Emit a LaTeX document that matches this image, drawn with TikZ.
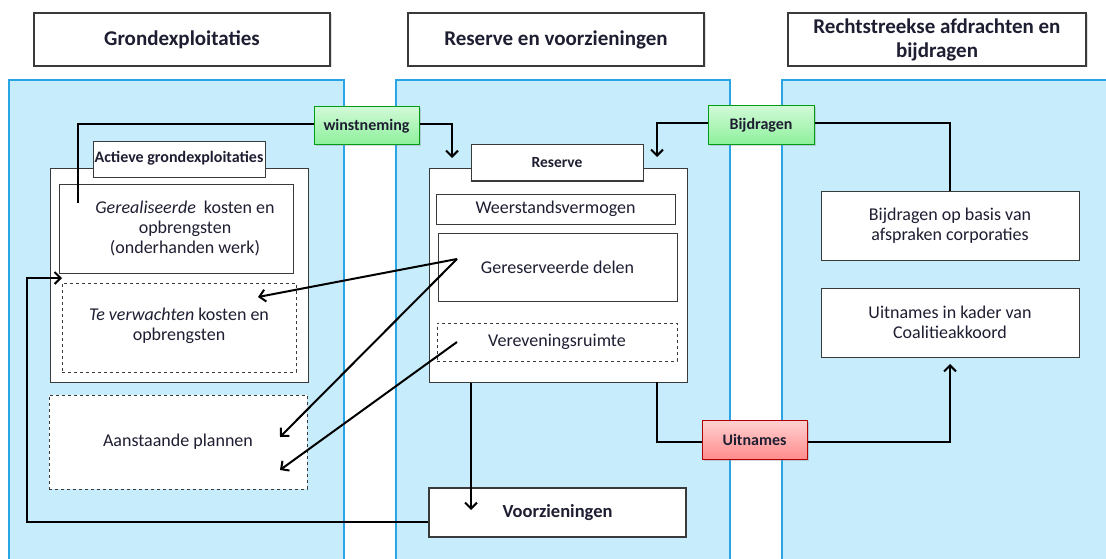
\documentclass[tikz,border=0pt]{standalone}
\usepackage{fontspec}
\setmainfont{Carlito}
\usetikzlibrary{calc,arrows.meta,shadows}

\definecolor{panelfill}{HTML}{C7ECFC}
\definecolor{paneldraw}{HTML}{2AA5E4}
\definecolor{boxdraw}{HTML}{3A3A3A}
\definecolor{txt}{HTML}{1E1E32}

\tikzset{
  panel/.style={fill=panelfill, draw=paneldraw, line width=1.2pt},
  box/.style={draw=boxdraw, fill=white, line width=1pt, align=center, text=txt,
    font=\fontsize{18}{20}\selectfont, inner sep=0pt},
  dashbox/.style={box, dashed},
  titlebox/.style={box, line width=1.3pt, font=\fontsize{21}{24}\bfseries\selectfont,
    drop shadow={opacity=0.25, shadow xshift=1.5pt, shadow yshift=-1.5pt}},
  tabbox/.style={box, font=\fontsize{16}{18}\bfseries\selectfont},
  flowbtn/.style={draw=#1!70!black, line width=1pt, text=txt, inner sep=0pt,
    font=\fontsize{16}{18}\bfseries\selectfont,
    top color=#1!18, bottom color=#1!45,
    drop shadow={opacity=0.3, shadow xshift=1.5pt, shadow yshift=-1.5pt}},
  conn/.style={line width=2pt, black},
  arr/.style={conn, -{Straight Barb[length=6pt,width=12pt,line width=2pt]}},
}

\begin{document}
\begin{tikzpicture}[x=1pt, y=-1pt]
  \useasboundingbox (0,0) rectangle (1106,559);

  % columns
  \draw[panel] (9,80) rectangle (344,570);
  \draw[panel] (396,80) rectangle (730,570);
  \draw[panel] (782,80) rectangle (1120,570);

  \node[titlebox, minimum width=296, minimum height=53] (tGrond) at (182,39.5) {Grondexploitaties};
  \node[titlebox, minimum width=296, minimum height=53] (tReserve) at (556,39.5) {Reserve en voorzieningen};
  \node[titlebox, minimum width=298, minimum height=53] (tRecht) at (937,39.5) {Rechtstreekse afdrachten en\\bijdragen};

  % grondexploitaties
  \node[box, minimum width=258, minimum height=213] (actief) at (179,275.5) {};
  \node[tabbox, minimum width=172, minimum height=36, anchor=north] (actiefTab) at (179,141)
    {\raisebox{5pt}{Actieve grondexploitaties}};
  \node[box, minimum width=234, minimum height=89] (gereal) at (176,228.5)
    {\hspace*{18pt}\textit{Gerealiseerde}\ \ kosten en\\\hspace*{18pt}opbrengsten\\\hspace*{18pt}(onderhanden werk)};
  \node[dashbox, minimum width=234, minimum height=89] (verwacht) at (179,327.5)
    {\raisebox{6pt}{\textit{Te verwachten} kosten en}\\\raisebox{6pt}{opbrengsten}};
  \node[dashbox, minimum width=258, minimum height=94] (plannen) at (178,442) {Aanstaande plannen};

  % reserve
  \node[box, minimum width=258, minimum height=213] (reserve) at (558,275.5) {};
  \node[tabbox, minimum width=172, minimum height=36, font=\fontsize{15.5}{18}\bfseries\selectfont] (reserveTab) at (557,163) {Reserve};
  \node[box, minimum width=239, minimum height=30] (weerstand) at (555.5,209) {Weerstandsvermogen};
  \node[box, minimum width=239, minimum height=68] (gereserveerd) at (557.5,267) {Gereserveerde delen};
  \node[dashbox, minimum width=240, minimum height=38] (verevening) at (557,342) {Vereveningsruimte};
  \node[box, line width=2pt, minimum width=257, minimum height=49,
    font=\fontsize{18.5}{20}\bfseries\selectfont] (voorz) at (557.5,512.5) {Voorzieningen};

  % rechtstreeks
  \node[box, minimum width=258, minimum height=69] (basis) at (950,225.5) {Bijdragen op basis van\\afspraken corporaties};
  \node[box, minimum width=258, minimum height=69] (kader) at (950,322.5) {Uitnames in kader van\\Coalitieakkoord};

  % stromen
  \node[flowbtn=green!75!teal, minimum width=105, minimum height=38] (winst) at (366.5,126) {winstneming};
  \node[flowbtn=green!75!teal, minimum width=106, minimum height=39] (bijdr) at (761,125.5) {Bijdragen};
  \node[flowbtn=red, minimum width=105, minimum height=39] (uitn) at (754.5,439.5) {Uitnames};

  \coordinate (wEnd) at (78,203);
  \coordinate (wTip) at (452,158);
  \coordinate (bTip) at (657,157);
  \coordinate (vTip) at (471,510);
  \coordinate (uTurn) at (657,382);
  \coordinate (kTip) at (950,364);
  \coordinate (lTip) at (62,278);
  \coordinate (gStart) at (457,259);
  \coordinate (rStart) at (457,342);
  \coordinate (tTip) at (258,297);
  \coordinate (pTip1) at (280,437);
  \coordinate (pTip2) at (280,470);

  \draw[conn] ($(winst.west)+(0,-2)$) -| (wEnd);
  \draw[arr] ($(winst.east)+(0,-2)$) -| (wTip);
  \draw[conn] (basis.north) |- ($(bijdr.east)+(0,-2)$);
  \draw[arr] ($(bijdr.west)+(0,-2)$) -| (bTip);
  \draw[arr] (vTip |- reserve.south) -- (vTip);
  \draw[conn] (uTurn) |- ($(uitn.west)+(0,2)$);
  \draw[arr] ($(uitn.east)+(0,2)$) -| (kTip);
  \draw[arr] ($(voorz.west)+(0,9.5)$) -| (27,278) -- (lTip);

  \draw[arr] (gStart) -- (tTip);
  \draw[arr] (gStart) -- (pTip1);
  \draw[arr] (rStart) -- (pTip2);
\end{tikzpicture}
\end{document}
